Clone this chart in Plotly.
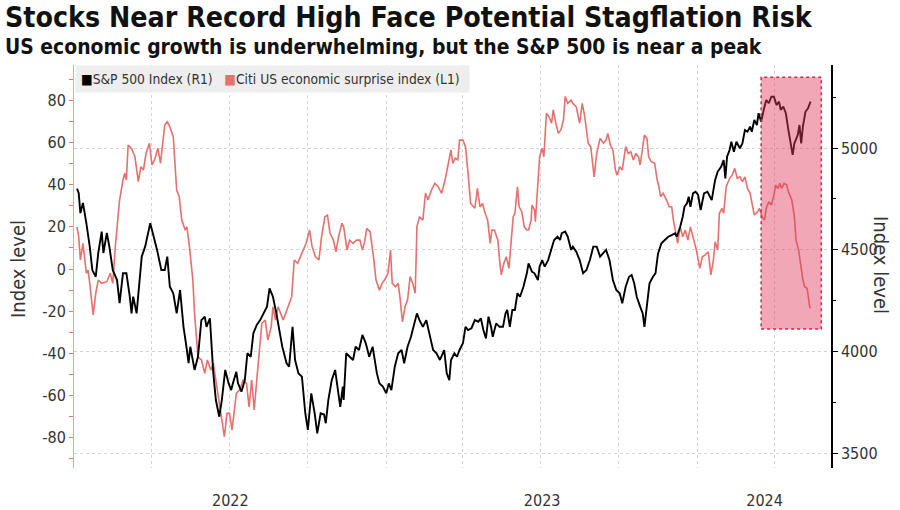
import pandas as pd
import plotly.graph_objects as go

# ---------------- data ----------------
base_date = pd.Timestamp("2022-01-01")

spx_days = [2,4,6,9,13,17,20,24,27,31,33,37,40,44,49,52,56,60,64,66,68,72,78,82,88,92,96,101,105,108,111,115,119,123,127,131,133,135,140,144,148,152,154,158,162,165,169,172,176,180,183,185,189,191,195,199,202,206,209,213,217,221,225,228,232,236,240,243,248,251,255,258,262,266,270,273,277,281,284,288,292,294,297,301,305,309,311,314,315,318,322,326,329,333,337,341,345,349,354,357,361,365,368,371,375,379,383,386,390,394,397,401,404,408,412,416,420,424,428,433,436,439,441,445,448,451,455,458,461,465,469,473,476,479,482,485,488,490,494,498,502,505,507,510,513,516,519,522,526,530,532,536,539,543,545,548,551,555,559,562,566,569,571,575,578,582,584,588,592,596,600,604,608,612,616,620,623,627,631,635,639,642,646,650,653,656,659,663,666,668,671,674,678,681,684,688,692,696,700,704,706,710,713,715,718,720,722,725,728,731,734,738,742,745,747,751,754,758,761,763,765,768,770,773,776,780,783,786,789,792,794,797,800,802,805,808,811,814,817,820,823,826,828,831,834,837,840,842,844,848,850,852,854,857,860,863]
spx_values = [4800,4779,4680,4730,4631,4515,4400,4367,4484,4589,4484,4582,4515,4400,4351,4237,4384,4384,4269,4187,4269,4187,4466,4515,4630,4564,4499,4400,4400,4466,4318,4286,4187,4302,4122,4007,3942,4023,3909,3974,4154,4171,4121,4163,3892,3761,3679,3761,3909,3843,3810,3843,3900,3843,3802,3859,3991,3974,4089,4130,4154,4187,4220,4310,4269,4187,4089,4023,3942,3925,4121,3958,3892,3876,3696,3614,3794,3696,3597,3696,3690,3647,3761,3859,3909,3794,3728,3827,3761,3991,3974,3958,4023,4007,4081,4040,3974,4023,3892,3843,3827,3794,3843,3810,3925,3991,4007,3942,4023,4072,4121,4187,4154,4121,4154,4072,4007,3991,3958,4007,3892,3859,3958,3991,3974,4007,4040,4121,4105,4114,4154,4146,4163,4105,4064,4171,4121,4072,4138,4121,4121,4187,4204,4121,4204,4204,4286,4269,4318,4384,4433,4392,4384,4351,4417,4449,4417,4449,4499,4548,4564,4548,4581,4589,4564,4499,4515,4490,4449,4384,4400,4449,4515,4515,4466,4482,4499,4449,4351,4302,4286,4237,4318,4367,4376,4335,4269,4220,4187,4121,4220,4335,4367,4384,4482,4532,4548,4564,4572,4581,4564,4613,4662,4711,4728,4761,4711,4777,4785,4769,4695,4777,4785,4761,4744,4843,4884,4908,4941,4851,4957,4990,5031,4982,5031,4999,5023,5088,5080,5105,5080,5138,5113,5171,5129,5187,5236,5220,5252,5252,5211,5228,5187,5203,5171,5088,5023,4966,5023,5064,5113,5023,5105,5178,5195,5228]

citi_days = [2,4,6,9,13,15,17,21,24,27,31,37,41,44,47,50,52,56,58,60,62,66,70,74,77,80,83,87,90,93,97,100,103,105,108,111,115,117,119,122,125,129,131,134,138,140,144,148,152,155,159,162,165,168,171,175,178,181,184,187,189,193,197,201,204,207,210,213,217,219,223,226,230,232,235,238,241,244,247,250,254,257,261,265,269,271,275,278,282,286,289,293,296,299,303,306,309,313,315,319,322,326,330,334,337,340,342,346,350,353,357,360,363,367,370,372,376,379,381,384,387,390,393,396,399,401,404,408,411,414,418,422,426,430,434,438,441,443,446,449,451,455,458,461,464,469,472,475,478,481,484,487,489,492,496,498,500,503,506,509,512,514,516,519,521,524,527,530,532,535,536,539,540,543,545,548,550,553,556,559,561,564,567,570,573,575,578,582,584,588,592,595,598,602,605,609,612,616,620,623,625,628,631,634,636,639,642,646,649,652,655,658,661,663,666,668,671,673,676,680,683,685,687,690,694,697,700,702,705,707,710,713,716,719,722,725,729,733,736,739,743,746,749,751,754,756,759,761,764,768,771,774,777,780,783,786,789,792,794,797,801,803,806,809,811,814,817,820,822,825,827,829,832,835,837,841,844,846,849,851,854,856,859,862,863]
citi_values = [20.0,15.3,4.3,12.2,-2,-0.5,-6.8,-21.8,-11.5,-5.2,-6.8,-6.0,-2,-6.8,10.6,26.4,32.7,42.2,45.4,42.2,58.8,57.2,53.2,41.4,48.5,46.9,54.8,59.6,49.3,51.7,57.2,50.1,61.1,68.2,69.8,67.4,62.7,48.5,37.4,34.3,23.2,18.5,20,10.6,-5.2,-21,-41.6,-43.1,-49.4,-43.1,-47.9,-44.7,-52.6,-62.1,-68.4,-79.5,-68.4,-68.4,-76.3,-65.3,-58.9,-57.3,-52.6,-54.2,-65.3,-52.6,-66.8,-52.6,-36.8,-25.7,-24.2,-33.6,-27.3,-17.9,-24.2,-17.9,-21,-24.2,-21,-17.9,-13.1,4.3,2.7,6.6,10.6,12.2,18.5,10.6,5.8,4.3,15.3,24.8,25.6,16.9,13.7,8.2,15.3,21.7,20,9,13.7,12.2,13.7,13.7,9,13.7,19.3,17.7,5.8,-5.2,-10,-6.8,-5.2,-2,9,-6.8,-8.4,-6.8,-13.1,-25,-17.9,-14.7,-3.6,-6.8,-11.5,20,24.8,23.2,35.9,32.7,37.4,40.6,39,35.9,42.2,50.1,56.4,50.1,52.5,51.7,61.1,61.1,58,45.4,31.1,28.8,38.2,29.5,31.1,26.4,23.2,12.2,18.5,18.5,13.7,4.3,-2.8,2.7,5.8,0.3,13.7,24.8,26.4,39,29.5,27.2,20,18.5,18.5,23.2,30.3,28,22.4,42.2,53.2,57.2,53.2,73.8,72.2,69.1,75.4,69.1,64.3,65.9,70.6,81.7,78.5,80.1,78.5,76.9,69.1,78.5,72.2,59.6,58,43.7,54.8,61.9,59.6,61.1,64.3,58.8,56.4,46.9,44.5,48.5,46.9,58,54.8,55.6,51.7,54.8,53.2,49.3,58,63.5,61.9,53.2,50.9,50.1,42.2,39,34.3,35.9,32.7,29.5,29.5,23.2,16.9,12.2,20,15.3,18.5,13.7,20,15.3,9,0.3,5.8,6.6,8.2,-2.8,4.3,12.9,9,26.4,28.8,26.4,39,43,44.5,47.7,43,43.7,41.4,43.7,38.2,35.9,31.1,25.6,27.2,28.8,24.8,23.2,28.8,31.9,30.3,35.1,39.8,38.2,40.6,38.2,40.6,39.8,36.6,32.7,24.8,13.7,9,2.7,-5.2,-8.4,-9.2,-17.9,-18.6]

spx_dates = base_date + pd.to_timedelta(spx_days, unit="D")
citi_dates = base_date + pd.to_timedelta(citi_days, unit="D")

year_labels = ["2022", "2023", "2024"]
year_label_dates = ["2022-07-02", "2023-07-03", "2024-03-20"]
quarter_dates = ["2022-04-01", "2022-07-01", "2022-10-01", "2023-01-01", "2023-04-01",
                 "2023-07-01", "2023-10-01", "2024-01-01", "2024-04-01"]
left_ticks = [-80, -60, -40, -20, 0, 20, 40, 60, 80]
left_tick_text = ["-80", "-60", "-40", "-20", "0", "20", "40", "60", "80"]
right_ticks = [3500, 4000, 4500, 5000]

highlight_start = "2024-03-16"
highlight_end = "2024-05-25 16:00"
highlight_low, highlight_high = -28.4, 90.9

# ---------------- styling ----------------
FONT = "Liberation Sans Narrow, DejaVu Sans Condensed, Arial Narrow, sans-serif"
RED = "#e5706e"

L, R, T, B = 74, 69, 65, 42
PW = 900 - L - R
PH = 510 - T - B

def px_x(px):
    return (px - L) / PW

def px_y(py):
    return (510 - B - py) / PH

fig = go.Figure()
fig.add_trace(go.Scatter(x=citi_dates, y=citi_values, mode="lines",
                         line=dict(color=RED, width=1.6), yaxis="y",
                         name="Citi US economic surprise index (L1)", showlegend=False))
fig.add_trace(go.Scatter(x=spx_dates, y=spx_values, mode="lines",
                         line=dict(color="#000000", width=1.9), yaxis="y2",
                         name="S&P 500 Index (R1)", showlegend=False))

fig.add_shape(type="rect", xref="x", yref="y",
              x0=highlight_start, x1=highlight_end, y0=highlight_low, y1=highlight_high,
              fillcolor="rgba(224,60,90,0.45)",
              line=dict(color="#c8284a", width=1.5, dash="dot"), layer="above")

fig.update_layout(
    width=900, height=510,
    margin=dict(l=L, r=R, t=T, b=B, autoexpand=False),
    paper_bgcolor="white", plot_bgcolor="white",
    font=dict(family=FONT, size=16, color="#333333"),
    xaxis=dict(type="date", range=["2021-12-30 12:00", "2024-06-06"], automargin=False,
               tickmode="array", tickvals=year_label_dates, ticktext=year_labels,
               showgrid=False, zeroline=False, showline=False,
               ticks="outside", ticklen=18, tickcolor="rgba(0,0,0,0)",
               tickfont=dict(family=FONT, size=16, color="#333333"),
               minor=dict(tickmode="array", tickvals=quarter_dates, showgrid=True,
                          gridcolor="#d3d3d3", griddash="dot", gridwidth=1, ticks="")),
    yaxis=dict(range=[-94.3, 96.7], tickmode="array", tickvals=left_ticks, automargin=False,
               ticktext=left_tick_text, showgrid=False, zeroline=False,
               showline=True, linecolor="#eda3a3", linewidth=1,
               ticks="outside", ticklen=4, tickcolor="#e57373", tickwidth=1,
               tickfont=dict(family=FONT, size=16, color="#333333"),
               minor=dict(tickmode="linear", tick0=0, dtick=10, ticks="outside",
                          ticklen=4, tickcolor="#e57373")),
    yaxis2=dict(overlaying="y", side="right", range=[3427, 5408], automargin=False,
                tickmode="array", tickvals=right_ticks,
                showgrid=True, gridcolor="#d3d3d3", griddash="dot", gridwidth=1,
                zeroline=False, showline=True, linecolor="#000000", linewidth=1.5,
                ticks="outside", ticklen=5, tickcolor="#000000",
                tickfont=dict(family=FONT, size=16, color="#333333"),
                minor=dict(tickmode="linear", tick0=0, dtick=250, ticks="outside",
                           ticklen=3, tickcolor="#000000")),
    showlegend=False,
)

annotations = [
    dict(text="<b>Stocks Near Record High Face Potential Stagflation Risk</b>",
         xref="paper", yref="paper", x=px_x(3), y=px_y(18),
         xanchor="left", yanchor="middle", showarrow=False,
         font=dict(family=FONT, size=28.3, color="#111111")),
    dict(text="<b>US economic growth is underwhelming, but the S&P 500 is near a peak</b>",
         xref="paper", yref="paper", x=px_x(3), y=px_y(47),
         xanchor="left", yanchor="middle", showarrow=False,
         font=dict(family=FONT, size=20.9, color="#111111")),
    dict(text="<span style='color:#000000'>■</span>S&P 500 Index (R1)   "
              f"<span style='color:{RED}'>■</span>Citi US economic surprise index (L1) ",
         xref="paper", yref="paper", x=px_x(75), y=1.0, xanchor="left", yanchor="top",
         showarrow=False, bgcolor="#eeeeee", borderpad=5,
         font=dict(family=FONT, size=13.7, color="#333333")),
    dict(text="Index level", xref="paper", yref="paper", x=px_x(18),
         y=px_y(269), xanchor="center", yanchor="middle", textangle=-90,
         showarrow=False, font=dict(family=FONT, size=20, color="#333333")),
    dict(text="Index level", xref="paper", yref="paper", x=px_x(881),
         y=px_y(265), xanchor="center", yanchor="middle", textangle=90,
         showarrow=False, font=dict(family=FONT, size=20, color="#333333")),
]
fig.update_layout(annotations=annotations)

# remove the default page margin so the 900x510 figure fills the window exactly
fig.write_html("out.html", config={"displayModeBar": False},
               post_script="document.body.style.margin='0';document.body.style.overflow='hidden';")
